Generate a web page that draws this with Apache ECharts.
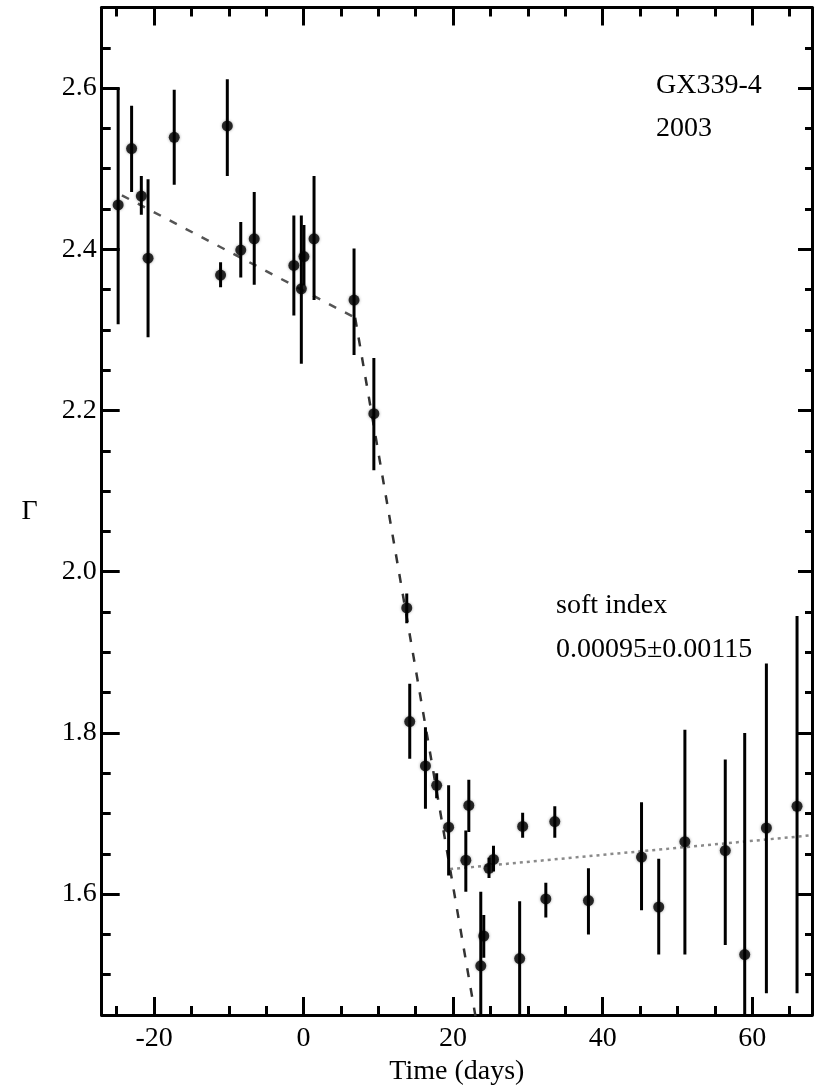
<!DOCTYPE html>
<html>
<head>
<meta charset="utf-8">
<script src="https://cdn.jsdelivr.net/npm/echarts@6/dist/echarts.min.js"></script>
<style>
  html, body { margin: 0; padding: 0; background: #fff; }
  #chart { width: 819px; height: 1086px; }
</style>
</head>
<body>
<div id="chart"></div>
<script>
// GX 339-4, 2003 outburst: photon index versus time, with 1-sigma errors
const days = [-24.8, -23.0, -21.7, -20.8, -17.3, -11.1, -10.2, -8.4, -6.6, -1.3,
              -0.3, 0.05, 1.4, 6.75, 9.4, 13.8, 14.2, 16.3, 17.8, 19.4,
              21.7, 22.1, 23.7, 24.1, 24.8, 25.4, 28.9, 29.3, 32.4, 33.6,
              38.1, 45.2, 47.5, 51.0, 56.4, 59.0, 61.9, 66.0];
const gamma = [2.455, 2.525, 2.466, 2.389, 2.539, 2.368, 2.553, 2.399, 2.413, 2.380,
               2.351, 2.391, 2.413, 2.337, 2.196, 1.955, 1.814, 1.759, 1.735, 1.683,
               1.642, 1.710, 1.511, 1.548, 1.632, 1.643, 1.520, 1.684, 1.594, 1.690,
               1.592, 1.646, 1.584, 1.665, 1.654, 1.525, 1.682, 1.709];
const gammaLow = [2.307, 2.471, 2.443, 2.291, 2.480, 2.353, 2.491, 2.365, 2.356, 2.318,
                  2.258, 2.355, 2.337, 2.269, 2.126, 1.936, 1.768, 1.706, 1.719, 1.623,
                  1.603, 1.677, 1.419, 1.521, 1.620, 1.628, 1.449, 1.670, 1.571, 1.670,
                  1.550, 1.580, 1.525, 1.525, 1.537, 1.250, 1.477, 1.477];
const gammaHigh = [2.600, 2.578, 2.491, 2.487, 2.598, 2.384, 2.611, 2.434, 2.471, 2.442,
                   2.442, 2.430, 2.491, 2.401, 2.265, 1.973, 1.861, 1.807, 1.750, 1.735,
                   1.679, 1.742, 1.603, 1.574, 1.645, 1.660, 1.591, 1.701, 1.614, 1.709,
                   1.632, 1.714, 1.644, 1.804, 1.767, 1.800, 1.886, 1.945];

// Broken-line model: slow hard-state decline, steep transition, soft state
const fitHard = [[-24.3, 2.467], [6.9, 2.315]];
const fitDrop = [[6.9, 2.315], [23.5, 1.421]];
const fitSoft = [[19.6, 1.631], [68.0, 1.673]];

// Axis ranges and tick positions
const xRange = [-27, 68];
const yRange = [1.45, 2.7];
const xMajorTicks = [-20, 0, 20, 40, 60];
const xMinorTicks = [-25, -15, -10, -5, 5, 10, 15, 25, 30, 35, 45, 50, 55, 65];
const yMajorTicks = [1.6, 1.8, 2.0, 2.2, 2.4, 2.6];
const yMinorTicks = [1.5, 1.55, 1.65, 1.7, 1.75, 1.85, 1.9, 1.95, 2.05, 2.1, 2.15,
                     2.25, 2.3, 2.35, 2.45, 2.5, 2.55, 2.65];

const FONT = '"Liberation Serif", "Times New Roman", serif';
const FS = 28;
const INK = '#000';

function frameAxis(position, range, ticks, tickLen, withLine, extra) {
  return Object.assign({
    type: 'value',
    position: position,
    min: range[0],
    max: range[1],
    scale: true,
    splitLine: { show: false },
    axisLine: { show: withLine, onZero: false, lineStyle: { color: INK, width: 3 } },
    axisTick: { show: true, inside: true, length: tickLen, customValues: ticks,
                lineStyle: { color: INK, width: 3 } },
    axisLabel: { show: false },
    minorTick: { show: false }
  }, extra || {});
}

const chart = echarts.init(document.getElementById('chart'), null, { renderer: 'canvas' });

chart.setOption({
  animation: false,
  backgroundColor: '#fff',
  grid: { left: 101.7, right: 7, top: 7.5, bottom: 71, containLabel: false, outerBoundsMode: 'none', show: false },
  xAxis: [
    frameAxis('bottom', xRange, xMajorTicks, 18, true, {
      axisLabel: { show: true, customValues: xMajorTicks, margin: 10, color: INK,
                   fontFamily: FONT, fontSize: FS },
      name: 'Time (days)', nameLocation: 'middle', nameGap: 39,
      nameTextStyle: { color: INK, fontFamily: FONT, fontSize: FS }
    }),
    frameAxis('bottom', xRange, xMinorTicks, 9, false),
    frameAxis('top', xRange, xMajorTicks, 18, true),
    frameAxis('top', xRange, xMinorTicks, 9, false)
  ],
  yAxis: [
    frameAxis('left', yRange, yMajorTicks, 18, true, {
      axisLabel: { show: true, customValues: yMajorTicks, margin: 5, color: INK,
                   fontFamily: FONT, fontSize: FS,
                   formatter: v => Number(v).toFixed(1) },
      name: 'Γ', nameLocation: 'middle', nameGap: 64, nameRotate: 0,
      nameTextStyle: { color: INK, fontFamily: FONT, fontSize: FS }
    }),
    frameAxis('left', yRange, yMinorTicks, 9, false),
    frameAxis('right', yRange, yMajorTicks, 14, true),
    frameAxis('right', yRange, yMinorTicks, 7, false)
  ],
  series: [
    {
      name: 'hard decline',
      type: 'line',
      data: fitHard,
      symbol: 'none',
      silent: true,
      clip: true,
      lineStyle: { color: '#555', width: 2.5, type: [8, 10] },
      z: 1
    },
    {
      name: 'transition',
      type: 'line',
      data: fitDrop,
      symbol: 'none',
      silent: true,
      clip: true,
      lineStyle: { color: '#333', width: 2.5, type: [9, 11] },
      z: 1
    },
    {
      name: 'soft index',
      type: 'line',
      data: fitSoft,
      symbol: 'none',
      silent: true,
      clip: true,
      lineStyle: { color: '#8a8a8a', width: 2.5, type: [3, 4] },
      z: 1
    },
    {
      name: 'error',
      type: 'custom',
      clip: true,
      data: days.map((d, i) => [d, gammaLow[i], gammaHigh[i]]),
      encode: { x: 0, y: [1, 2] },
      renderItem: (params, api) => {
        const x = api.value(0);
        const lo = api.coord([x, api.value(1)]);
        const hi = api.coord([x, api.value(2)]);
        return {
          type: 'line',
          shape: { x1: lo[0], y1: lo[1], x2: hi[0], y2: hi[1] },
          style: { stroke: INK, lineWidth: 3 }
        };
      },
      z: 2
    },
    {
      name: 'Γ',
      type: 'scatter',
      data: days.map((d, i) => [d, gamma[i]]),
      symbol: 'circle',
      symbolSize: 11,
      itemStyle: { color: INK, shadowBlur: 3, shadowColor: 'rgba(0,0,0,0.45)' },
      z: 3
    }
  ],
  graphic: [
    { type: 'text', x: 656, y: 86, style: { text: 'GX339-4', font: FS + 'px ' + FONT, fill: INK, textVerticalAlign: 'middle' } },
    { type: 'text', x: 656, y: 129, style: { text: '2003', font: FS + 'px ' + FONT, fill: INK, textVerticalAlign: 'middle' } },
    { type: 'text', x: 556, y: 606, style: { text: 'soft index', font: FS + 'px ' + FONT, fill: INK, textVerticalAlign: 'middle' } },
    { type: 'text', x: 556, y: 650, style: { text: '0.00095±0.00115', font: FS + 'px ' + FONT, fill: INK, textVerticalAlign: 'middle' } }
  ]
});
</script>
</body>
</html>
